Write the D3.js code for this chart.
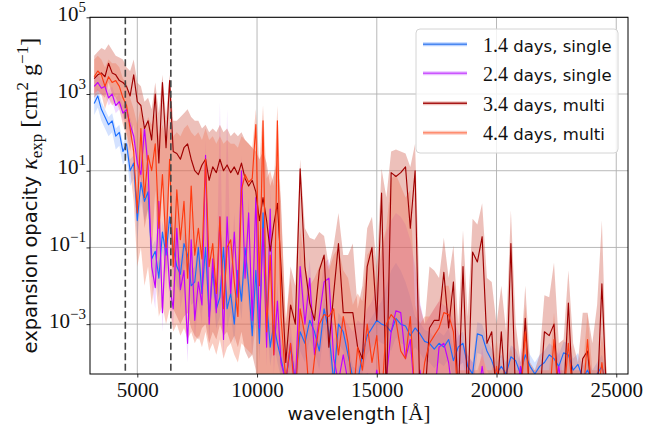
<!DOCTYPE html>
<html><head><meta charset="utf-8">
<script src="https://cdn.jsdelivr.net/npm/d3@7"></script>
<style>body{margin:0;background:#fff;} svg{display:block;}</style>
</head><body><svg id="c" width="657" height="431"></svg>
<script>
// ---------------- DATA (log10 of opacity, cm^2/g) ----------------
const wavelength = [
 3200,3350,3500,3650,3800,3950, 4100,4250,4400,4550,4700,4850,
 5000,5150,5300,5450,5600,5750,5900, 6050,6200,6350,6500,6650,6800,6950,
 7100,7250,7400,7550,7700,7850, 8000,8150,8300,8450,8600,8750,8900,
 9050,9200,9350,9500,9650,9800,9950, 10100,10250,10400,10550,10700,10850,11000,
 11200,11400,11600,11800,12000,12200,12400,12600,12800,13000,
 13200,13400,13600,13800,14000,14200,14400,14600,14800,15000,
 15200,15400,15600,15800,16000,16200,16400,16600,16800,17000,
 17200,17400,17600,17800,18000,18200,18400,18600,18800,19000,
 19200,19400,19600,19800,20000,20200,20400,20600,20800,21000,
 21200,21400,21600,21800,22000,22200,22400,22600,22800,23000,
 23200,23400,23600,23800,24000,24200,24400,24600];

const seriesLabels = ["1.4", "2.4", "3.4", "4.4"];
const seriesKinds  = ["single", "single", "multi", "multi"];

// 1.4 days, single
const k14 = [
 2.75,2.95,2.6,2.4,2.2,2.3, 1.9,2.0,1.5,1.7,1.0,1.2,
 -0.3,0.7,0.2,0.45,-1.3,-1.1,-1.8, -0.6,-1.2,-0.2,-1.0,-1.5,-1.7,-0.9,
 -1.2,-2.0,-1.9,-1.0,-2.2,-1.0, -2.8,-1.6,-2.6,-2.3,-1.0,-2.6,-2.2,
 -3.0,-1.6,-2.4,-1.0,-2.0,-3.3,-1.6, -3.5,-0.1,-2.4,-3.6,-3.0,-3.5,-3.9,
 -4.5,-3.6,-4.5,-3.2,-3.5,-2.9,-3.2,-3.7,-2.6,-3.2,
 -4.5,-3.0,-3.2,-3.8,-4.4,-4.5,-3.8,-3.3,-3.1,-2.9,
 -3.0,-3.05,-3.2,-2.85,-3.0,-3.05,-3.3,-3.1,-3.25,-3.45,
 -3.5,-3.65,-3.5,-3.6,-3.4,-3.95,-3.6,-3.5,-4.1,-4.3,
 -3.25,-3.3,-3.7,-3.95,-4.3,-4.1,-4.3,-3.85,-3.95,-4.3,
 -3.8,-4.1,-4.3,-4.1,-4.0,-3.8,-3.9,-4.1,-3.75,-3.8,
 -4.2,-4.05,-4.4,-4.2,-4.5,-4.3,-4.1,-4.6];
const k14Hi = [
 2.95,3.15,2.8,2.6,2.4,2.5, 2.1,2.2,1.7,1.9,1.3,1.4,
 0.0,0.9,0.5,0.7,-1.0,-0.8,-1.4, -0.3,-0.9,0.1,-0.7,-1.2,-1.3,-0.6,
 -0.9,-1.6,-1.5,-0.7,-1.8,-0.7, -2.3,-1.3,-2.2,-1.9,-0.7,-2.2,-1.8,
 -2.5,-1.3,-2.0,-0.7,-1.6,-2.8,-1.2, -3.0,0.3,-2.0,-3.1,-2.5,-3.0,-3.4,
 -4.2,-3.3,-4.2,-2.9,-3.2,-2.6,-2.9,-3.4,-2.3,-2.9,
 -4.2,-2.7,-2.9,-3.5,-4.1,-4.2,-3.5,-3.0,-2.8,-2.6,
 -2.4,-2.0,-1.6,-1.4,-1.6,-1.9,-2.3,-2.8,-2.95,-3.15,
 -3.2,-3.35,-3.2,-3.3,-3.1,-3.65,-3.3,-3.2,-3.8,-4.0,
 -2.95,-3.0,-3.4,-3.65,-4.0,-3.8,-4.0,-3.55,-3.65,-4.0,
 -3.5,-3.8,-4.0,-3.8,-3.7,-3.5,-3.6,-3.8,-3.45,-3.5,
 -3.9,-3.75,-4.1,-3.9,-4.2,-4.0,-3.8,-4.3];
const k14Lo = [
 2.45,2.65,2.3,2.1,1.9,2.0, 1.55,1.65,1.15,1.35,0.6,0.8,
 -0.8,0.2,-0.3,0.0,-1.8,-1.6,-2.3, -1.1,-1.7,-0.7,-1.5,-2.0,-2.2,-1.4,
 -1.7,-2.5,-2.4,-1.5,-2.7,-1.5, -3.3,-2.1,-3.1,-2.8,-1.5,-3.1,-2.7,
 -3.5,-2.1,-2.9,-1.5,-2.5,-3.8,-2.1, -4.0,-0.5,-2.9,-4.1,-3.5,-4.0,-4.4,
 -5,-4.1,-5,-3.7,-4.0,-3.4,-3.7,-4.2,-3.1,-3.7,
 -5,-3.5,-3.7,-4.3,-4.9,-5,-4.3,-3.8,-3.6,-3.4,
 -3.5,-3.55,-3.7,-3.35,-3.5,-3.55,-3.8,-3.6,-3.75,-3.95,
 -4.0,-4.15,-4.0,-4.1,-3.9,-4.45,-4.1,-4.0,-4.6,-4.8,
 -3.75,-3.8,-4.2,-4.45,-4.8,-4.6,-4.8,-4.35,-4.45,-4.8,
 -9,-9,-9,-9,-9,-9,-9,-9,-9,-9,
 -9,-9,-9,-9,-9,-9,-9,-9];

// 2.4 days, single
const k24 = [
 3.2,3.3,3.15,3.2,2.9,3.0, 2.7,2.8,2.5,2.6,2.2,1.9,
 1.2,0.9,2.1,1.1,-1.5,-2.05,0.2, -2.7,-0.6,-2.0,-2.6,-0.5,-2.1,-1.6,
 -3.5,-0.8,-2.9,-1.9,-2.5,1.4, -3.0,-1.3,-2.7,-0.2,-3.4,-0.2,-2.2,
 -0.6,-2.3,1.0,-1.8,-0.1,-2.9,0.3, -3.1,-0.5,-3.6,0.0,-3.8,-2.4,-4.0,
 -4.5,-3.5,-4.6,-1.5,-3.0,-1.8,-3.8,-2.8,-1.9,-1.8,
 -3.9,-4.5,-3.8,-4.5,-5,-4.6,-5,-4.3,-5,-4.2,
 -5,-4.4,-3.2,-2.65,-2.7,-3.9,-3.4,-5,-4.2,-5,
 -4.5,-5,-3.6,-3.5,-4.0,-5,-4.4,-5,-5,-5,
 -5,-4.1,-5,-5,-5,-5,-5,-5,-5,-4.1,
 -5,-5,-5,-5,-5,-5,-5,-4.1,-5,-5,
 -5,-5,-5,-5,-5,-5,-5,-5];
const k24Hi = [
 3.4,3.5,3.35,3.4,3.1,3.2, 2.9,3.0,2.7,2.8,2.4,2.1,
 1.5,1.2,2.4,1.4,-1.0,-1.5,0.6, -2.2,-0.1,-1.5,-2.1,0.0,-1.6,-1.1,
 -3.0,-0.3,-2.4,-1.4,-2.0,1.8, -2.5,-0.8,-2.2,2.8,-2.9,2.6,-1.7,
 -0.1,-1.8,1.4,-1.3,0.3,-2.4,0.7, -2.6,0.0,-3.1,0.5,-3.3,-1.9,-3.5,
 -4.0,-3.0,-4.1,-1.0,-2.5,-1.3,-3.3,-2.3,-1.4,-1.3,
 -3.4,-3.2,-2.8,-3.0,-3.2,-2.9,-3.0,-2.6,-2.4,-2.0,
 -1.2,-0.6,-0.3,-0.1,-0.2,-0.4,-0.8,-1.5,-2.4,-3.0,
 -2.8,-2.6,-2.4,-2.5,-2.6,-2.9,-3.2,-3.5,-3.8,-4.0,
 -4.5,-3.6,-4.5,-4.5,-4.5,-4.5,-4.5,-4.5,-4.5,-3.6,
 -4.5,-4.5,-4.5,-4.5,-4.5,-4.5,-4.5,-3.6,-4.5,-4.5,
 -4.5,-4.5,-4.5,-4.5,-4.5,-4.5,-4.5,-4.5];
const k24Lo = [
 3.0,3.1,2.95,3.0,2.7,2.8, 2.5,2.6,2.3,2.4,1.9,1.6,
 0.8,0.5,1.7,0.7,-2.0,-2.6,-0.3, -3.2,-1.1,-2.5,-3.1,-1.0,-2.6,-2.1,
 -4.0,-1.3,-3.4,-2.4,-3.0,0.9, -3.5,-1.8,-3.2,-0.7,-3.9,-0.7,-2.7,
 -1.1,-2.8,0.5,-2.3,-0.6,-3.4,-0.2, -3.6,-1.0,-4.1,-0.5,-4.3,-2.9,-4.5,
 -9,-9,-9,-9,-9,-9,-9,-9,-9,-9,
 -9,-9,-9,-9,-9,-9,-9,-9,-9,-9,
 -9,-9,-9,-9,-9,-9,-9,-9,-9,-9,
 -9,-9,-9,-9,-9,-9,-9,-9,-9,-9,
 -9,-9,-9,-9,-9,-9,-9,-9,-9,-9,
 -9,-9,-9,-9,-9,-9,-9,-9,-9,-9,
 -9,-9,-9,-9,-9,-9,-9,-9];

// 3.4 days, multi
const k34 = [
 3.4,3.5,3.55,3.45,3.8,3.55, 3.5,3.35,3.3,3.2,2.95,3.5,
 2.8,2.7,2.1,2.3,1.8,3.0,1.2, 3.3,1.6,3.35,1.5,1.45,1.3,1.6,
 1.7,1.3,1.0,0.9,1.15,1.3, 0.75,1.1,0.95,1.3,1.0,1.15,0.95,
 1.1,0.9,1.2,0.8,0.6,0.75,0.45, -0.3,0.3,-0.3,-1.1,-0.4,0.15,-1.5,
 -4.0,-2.5,-3.0,1.05,-1.5,-2.45,-2.9,-1.6,-1.2,-3.6,
 -2.2,-0.9,-2.7,-2.7,-2.7,-3.6,-3.9,-1.5,-1.0,-2.9,
 0.42,-5,0.95,0.85,0.95,1.1,-0.5,1.0,-5,-5,
 -3.1,-2.9,-2.9,-1.65,-3.1,-1.9,-5,-1.5,-5,-1.12,
 -1.38,-0.72,-3.5,-3.2,-5,-3.2,-5,-0.9,-5,-5,
 -2.85,-5,-5,-5,-3.2,-3.3,-3.0,-5,-5,-2.45,
 -5,-5,-3.9,-3.7,-5,-5,-1.95,-5];
const k34Hi = [
 4.0,4.1,4.2,4.15,4.3,4.15, 4.0,3.95,3.9,3.7,3.6,3.9,
 3.3,3.2,2.8,2.9,2.6,3.3,2.5, 3.5,2.4,3.5,2.3,2.3,2.4,2.5,
 2.6,2.4,2.3,2.3,2.1,2.2, 2.0,2.1,2.0,2.2,2.0,2.1,1.9,
 2.0,1.9,2.0,1.8,1.7,1.6,1.5, 1.3,1.5,1.2,0.6,0.9,1.3,0.2,
 -3.0,-1.5,-2.0,1.3,-0.5,-0.75,-0.8,-0.6,-0.7,-1.5,
 -0.95,-0.1,-1.2,-1.2,-0.9,-2.6,-2.0,-0.5,-0.2,-1.5,
 1.05,0.3,1.5,1.55,1.5,1.45,1.1,1.7,-2.5,-3.0,
 -1.5,-1.6,-1.8,-0.75,-1.8,-0.95,-3.0,-0.55,-2.8,-0.25,
 -0.4,0.15,-1.8,-1.9,-3.0,-2.0,-3.2,-0.03,-3.0,-4.0,
 -2.0,-4.0,-4.2,-3.8,-2.25,-2.3,-1.4,-3.5,-3.4,-1.6,
 -3.5,-4.0,-2.7,-2.7,-3.5,-2.5,-0.3,-4.5];
const k34Lo = [
 2.9,3.0,3.0,2.9,3.3,3.0, 2.9,2.7,2.5,2.0,1.5,2.2,
 1.0,0.8,-0.5,0.0,-1.2,0.5,-1.8, 1.0,-2.2,1.0,-2.6,-2.8,-3.0,-2.8,
 -2.7,-3.1,-3.3,-3.4,-3.1,-3.0, -3.5,-3.2,-3.4,-3.0,-3.3,-3.2,-3.5,
 -3.3,-3.6,-3.2,-3.7,-3.9,-3.8,-4.2, -9,-9,-9,-9,-9,-9,-9,
 -9,-9,-9,-9,-9,-9,-9,-9,-9,-9,
 -9,-9,-9,-9,-9,-9,-9,-9,-9,-9,
 -9,-9,-9,-9,-9,-9,-9,-9,-9,-9,
 -9,-9,-9,-9,-9,-9,-9,-9,-9,-9,
 -9,-9,-9,-9,-9,-9,-9,-9,-9,-9,
 -9,-9,-9,-9,-9,-9,-9,-9,-9,-9,
 -9,-9,-9,-9,-9,-9,-9,-9];

// 4.4 days, multi
const k44 = [
 3.45,3.6,3.5,3.2,3.45,3.3, 3.35,3.2,2.9,2.7,2.1,1.5,
 -0.1,2.1,0.3,1.4,1.0,1.7,-0.5, 0.9,-1.0,1.3,-1.5,0.5,-0.8,0.2,
 -1.8,0.6,-1.2,-0.5,-1.3,1.3, -1.5,-0.9,-2.2,-0.2,-2.6,-1.0,-0.8,
 -1.9,-2.8,0.5,0.9,0.7,0.8,2.2, -2.0,2.3,-3.2,-1.2,-3.8,2.3,-2.8,
 -4.5,-3.5,-5,-2.6,-3.3,-5,-3.9,-3.0,-2.75,-2.8,
 -2.6,-3.8,-2.8,-3.5,-5,-3.6,-4.2,-3.0,-4.0,-3.3,
 -5,-3.0,-2.75,-2.9,-3.7,-3.9,-2.8,-5,-5,-4.0,
 -3.5,-3.3,-3.1,-2.7,-2.75,-3.2,-5,-5,-5,-5,
 -5,-4.5,-5,-5,-4.1,-5,-5,-4.3,-5,-5,
 -3.2,-5,-5,-5,-5,-5,-3.4,-5,-5,-3.5,
 -5,-5,-5,-3.4,-5,-5,-4.0,-5];
const k44Hi = [
 3.9,4.0,3.9,3.7,3.9,3.8, 3.8,3.7,3.4,3.3,2.9,2.6,
 2.2,2.7,2.0,2.4,2.2,2.5,1.9, 2.2,1.8,2.2,1.9,2.0,1.9,2.1,
 2.2,2.0,1.9,2.0,1.8,2.1, 1.8,1.9,1.7,1.9,1.7,1.8,1.7,
 1.7,1.6,1.9,1.8,1.7,1.6,2.6, 1.2,2.7,0.8,1.0,0.6,2.7,0.0,
 -3.0,-1.8,-3.0,-0.5,-1.5,-2.0,-1.8,-1.5,-1.2,-1.6,
 -1.2,-1.0,-1.6,-1.8,-2.5,-2.2,-2.4,-1.2,-1.0,-2.0,
 -1.0,-0.5,0.8,0.9,0.6,0.3,0.5,-2.5,-3.0,-2.8,
 -2.8,-2.6,-2.4,-2.0,-2.0,-2.5,-4.2,-4.2,-4.2,-4.2,
 -4.2,-3.8,-4.2,-4.2,-3.4,-4.2,-4.2,-3.6,-4.2,-4.2,
 -2.5,-4.2,-4.2,-4.2,-4.2,-4.2,-2.7,-4.2,-4.2,-2.8,
 -4.2,-4.2,-4.2,-2.7,-4.2,-4.2,-3.3,-4.2];
const k44Lo = [
 3.0,3.1,3.0,2.6,2.9,2.7, 2.8,2.6,2.2,1.9,1.0,0.2,
 -1.5,-1.0,-2.0,-1.5,-2.5,-1.8,-2.8, -2.5,-3.0,-2.6,-3.2,-3.0,-3.3,-3.1,
 -3.4,-3.2,-3.5,-3.3,-3.6,-3.2, -3.7,-3.5,-3.8,-3.4,-3.9,-3.6,-3.5,
 -3.8,-4.0,-3.5,-3.6,-3.7,-3.8,-3.0, -9,-9,-9,-9,-9,-9,-9,
 -9,-9,-9,-9,-9,-9,-9,-9,-9,-9,
 -9,-9,-9,-9,-9,-9,-9,-9,-9,-9,
 -9,-9,-9,-9,-9,-9,-9,-9,-9,-9,
 -9,-9,-9,-9,-9,-9,-9,-9,-9,-9,
 -9,-9,-9,-9,-9,-9,-9,-9,-9,-9,
 -9,-9,-9,-9,-9,-9,-9,-9,-9,-9,
 -9,-9,-9,-9,-9,-9,-9,-9];

const xTicks = [5000, 10000, 15000, 20000, 25000];
const yTickExps = [-3, -1, 1, 3, 5];
const markerWavelengths = [4500, 6400];

// ---------------- STYLE ----------------
const lineColors   = ["#1a6dff", "#c000ff", "#a00000", "#ff3a10"];
const bandColors   = ["#3d7dff", "#c050ff", "#d05a4a", "#f07050"];
const bandOpacity  = [0.22, 0.22, 0.38, 0.35];
const legendColors = ["#4a88f0", "#cc55ff", "#a81818", "#ff8d70"];

const W = 657, H = 431;
const M = {left: 90, right: 628, top: 17.3, bottom: 374};
const serif = "'Liberation Serif', 'DejaVu Serif', serif";
const sans  = "'DejaVu Sans', sans-serif";

const svg = d3.select("#c");
const x = d3.scaleLinear().domain([3025, 25490]).range([M.left, M.right]);
const y = d3.scaleLog().domain([Math.pow(10, -4.3), 1e5]).range([M.bottom, M.top]);

svg.append("rect").attr("width", W).attr("height", H).attr("fill", "#fff");

svg.append("defs").append("clipPath").attr("id", "clip")
  .append("rect").attr("x", M.left).attr("y", M.top)
  .attr("width", M.right - M.left).attr("height", M.bottom - M.top);

// grid
const grid = svg.append("g");
xTicks.forEach(t => grid.append("line")
  .attr("x1", x(t)).attr("x2", x(t)).attr("y1", M.top).attr("y2", M.bottom)
  .attr("stroke", "#b0b0b0").attr("stroke-width", 0.9));
yTickExps.forEach(e => grid.append("line")
  .attr("x1", M.left).attr("x2", M.right).attr("y1", y(Math.pow(10, e))).attr("y2", y(Math.pow(10, e)))
  .attr("stroke", "#b0b0b0").attr("stroke-width", 0.9));

const plot = svg.append("g").attr("clip-path", "url(#clip)");
const vals = [k14, k24, k34, k44];
const his  = [k14Hi, k24Hi, k34Hi, k44Hi];
const los  = [k14Lo, k24Lo, k34Lo, k44Lo];

const P = v => Math.pow(10, v);
vals.forEach((v, s) => {
  const area = d3.area()
    .x((d, i) => x(wavelength[i]))
    .y0((d, i) => y(P(los[s][i])))
    .y1((d, i) => y(P(his[s][i])));
  plot.append("path").attr("d", area(v))
    .attr("fill", bandColors[s]).attr("fill-opacity", bandOpacity[s]).attr("stroke", "none");
});
vals.forEach((v, s) => {
  const line = d3.line().x((d, i) => x(wavelength[i])).y(d => y(P(d)));
  plot.append("path").attr("d", line(v))
    .attr("fill", "none").attr("stroke", lineColors[s]).attr("stroke-width", 1.15)
    .attr("stroke-linejoin", "round");
});

// dashed markers
markerWavelengths.forEach(w => svg.append("line")
  .attr("x1", x(w)).attr("x2", x(w)).attr("y1", M.top).attr("y2", M.bottom)
  .attr("stroke", "#444").attr("stroke-width", 1.6).attr("stroke-dasharray", "7,3.5"));

// axes
const xAxis = svg.append("g").attr("transform", `translate(0,${M.bottom})`)
  .call(d3.axisBottom(x).tickValues(xTicks).tickSize(3.5).tickFormat(d3.format("d")));
xAxis.select(".domain").remove();
xAxis.selectAll("text").attr("font-family", serif).attr("font-size", 21)
  .attr("fill", "#111").attr("dy", null).attr("y", 23);
xAxis.selectAll("line").attr("stroke", "#000").attr("stroke-width", 0.8);

const yAxis = svg.append("g").attr("transform", `translate(${M.left},0)`)
  .call(d3.axisLeft(y).tickValues(yTickExps.map(P)).tickSize(3.5).tickFormat(""));
yAxis.select(".domain").remove();
yAxis.selectAll("line").attr("stroke", "#000").attr("stroke-width", 0.8);
yAxis.selectAll(".tick").each(function(d, i) {
  const e = yTickExps[i];
  const t = d3.select(this).append("text").attr("x", -4).attr("y", 3)
    .attr("text-anchor", "end").attr("font-family", serif).attr("fill", "#111");
  t.append("tspan").attr("font-size", 21).text("10");
  t.append("tspan").attr("font-size", 15).attr("dy", -9)
    .text(e < 0 ? "\u2212" + (-e) : "" + e);
});

// frame
svg.append("rect").attr("x", M.left).attr("y", M.top)
  .attr("width", M.right - M.left).attr("height", M.bottom - M.top)
  .attr("fill", "none").attr("stroke", "#000").attr("stroke-width", 1);

// axis labels
const xl = svg.append("text").attr("x", (M.left + M.right) / 2).attr("y", 420)
  .attr("text-anchor", "middle").attr("fill", "#111");
xl.append("tspan").attr("font-family", sans).attr("font-size", 18.5).text("wavelength ");
xl.append("tspan").attr("font-family", serif).attr("font-size", 21).text("[\u00c5]");

const yl = svg.append("text")
  .attr("transform", `translate(37,${(M.top + M.bottom) / 2}) rotate(-90)`)
  .attr("text-anchor", "middle").attr("fill", "#111");
yl.append("tspan").attr("font-family", sans).attr("font-size", 19.5).text("expansion opacity ");
yl.append("tspan").attr("font-family", serif).attr("font-size", 24).attr("font-style", "italic").text("\u03ba");
yl.append("tspan").attr("font-family", serif).attr("font-size", 17).attr("dy", 4.5).text("exp");
yl.append("tspan").attr("font-family", serif).attr("font-size", 24).attr("dy", -4.5).text(" [cm");
yl.append("tspan").attr("font-family", serif).attr("font-size", 17).attr("dy", -9).text("2");
yl.append("tspan").attr("font-family", serif).attr("font-size", 24).attr("dy", 9).text(" g");
yl.append("tspan").attr("font-family", serif).attr("font-size", 17).attr("dy", -9).text("\u22121");
yl.append("tspan").attr("font-family", serif).attr("font-size", 24).attr("dy", 9).text("]");

// legend
const lg = svg.append("g");
lg.append("rect").attr("x", 416).attr("y", 29).attr("width", 202).attr("height", 124)
  .attr("rx", 4).attr("fill", "#fff").attr("fill-opacity", 0.82)
  .attr("stroke", "#d4d4d4").attr("stroke-width", 1);
const rowY = [44.3, 73.3, 103.3, 132.7];
seriesLabels.forEach((lab, s) => {
  const ry = rowY[s];
  lg.append("line").attr("x1", 423).attr("x2", 467).attr("y1", ry).attr("y2", ry)
    .attr("stroke", bandColors[s]).attr("stroke-opacity", 0.35).attr("stroke-width", 4);
  lg.append("line").attr("x1", 423).attr("x2", 467).attr("y1", ry).attr("y2", ry)
    .attr("stroke", legendColors[s]).attr("stroke-width", 1.5);
  const t = lg.append("text").attr("x", 483).attr("y", ry + 7.5).attr("fill", "#111");
  t.append("tspan").attr("font-family", serif).attr("font-size", 20).text(lab);
  t.append("tspan").attr("font-family", sans).attr("font-size", 16.5).text(" days, " + seriesKinds[s]);
});
</script></body></html>
